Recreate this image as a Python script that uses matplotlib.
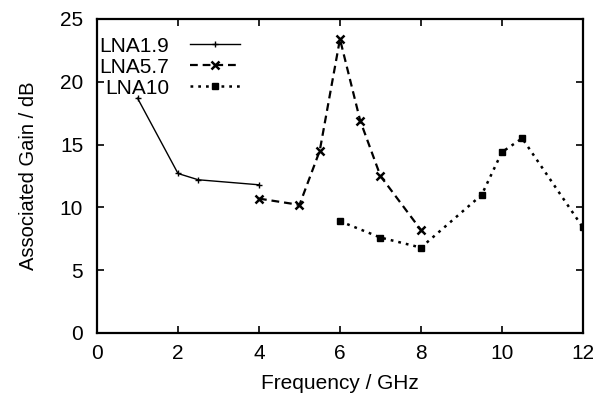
import matplotlib
matplotlib.use("Agg")
import matplotlib.pyplot as plt

plt.rcParams['font.family'] = ['Liberation Sans', 'DejaVu Sans']

# LNA1.9
f_19 = [1.0, 2.0, 2.5, 4.0]
g_19 = [18.7, 12.7, 12.2, 11.8]
# LNA5.7
f_57 = [4.0, 5.0, 5.5, 6.0, 6.5, 7.0, 8.0]
g_57 = [10.7, 10.2, 14.5, 23.4, 16.9, 12.5, 8.2]
# LNA10
f_10 = [6.0, 7.0, 8.0, 9.5, 10.0, 10.5, 12.0]
g_10 = [8.9, 7.6, 6.8, 11.0, 14.4, 15.5, 8.4]

xticks = [0, 2, 4, 6, 8, 10, 12]
yticks = [0, 5, 10, 15, 20, 25]

fig = plt.figure(figsize=(5.93, 4.0), dpi=100)
ax = fig.add_axes([0.1636, 0.1675, 0.8194, 0.785])

ax.plot(f_19, g_19, color='black', linestyle='-', linewidth=1.0,
        marker='+', markersize=5, markeredgewidth=1.0, label='LNA1.9')
ax.plot(f_57, g_57, color='black', linestyle=(0, (3.5, 2.2)), linewidth=1.6,
        marker='x', markersize=6, markeredgewidth=1.8, label='LNA5.7')
ax.plot(f_10, g_10, color='black', linestyle=(0, (1.1, 2.0)), linewidth=1.8,
        marker='s', markersize=4.5, markeredgewidth=1.0, label='LNA10')

ax.set_xlim(0, 12)
ax.set_ylim(0, 25)
ax.set_xticks(xticks)
ax.set_yticks(yticks)
ax.tick_params(direction='in', top=True, right=True, length=5, width=1.2,
               labelsize=15)
ax.tick_params(axis='y', pad=10)
ax.tick_params(axis='x', pad=8)
for s in ax.spines.values():
    s.set_linewidth(1.6)

ax.set_xlabel('Frequency / GHz', fontsize=15, labelpad=8)
ax.set_ylabel('Associated Gain / dB', fontsize=14.5, labelpad=16)

ax.legend(loc='upper left', bbox_to_anchor=(-0.012, 0.97), frameon=False,
          markerfirst=False, fontsize=15, handlelength=2.4, labelspacing=0.09,
          borderaxespad=0.1, handletextpad=1.0, borderpad=0.3)

fig.savefig('out.png', dpi=100)
